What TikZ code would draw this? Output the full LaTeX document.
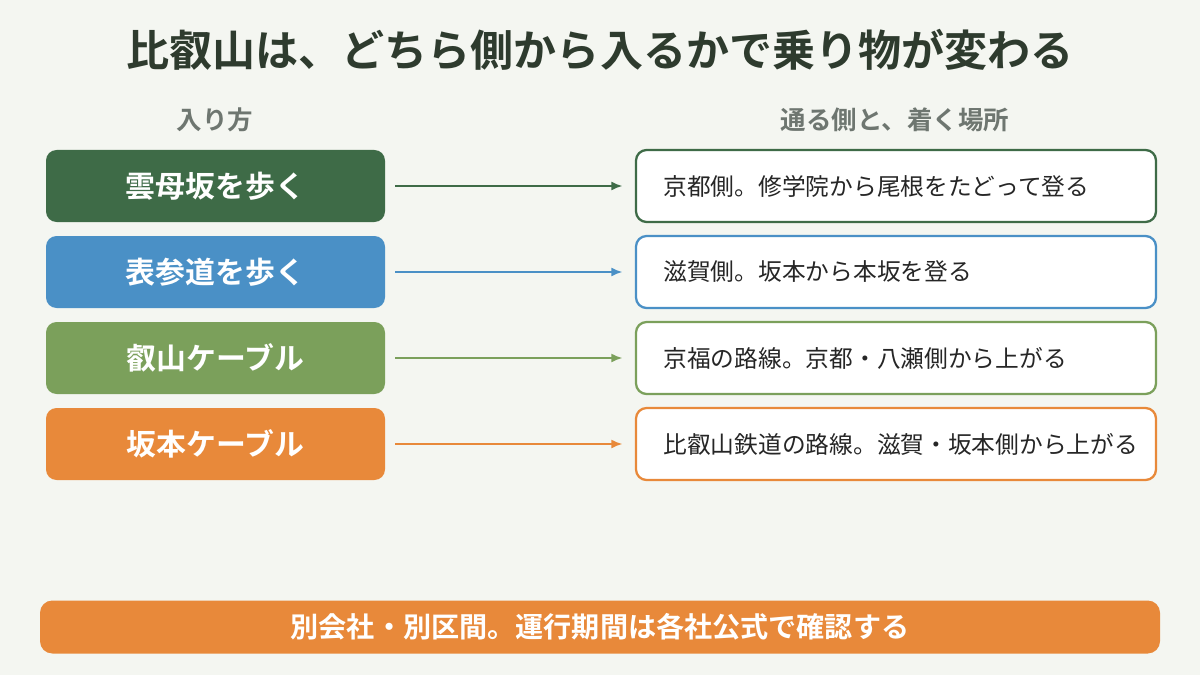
\documentclass[tikz,border=0pt]{standalone}
\usepackage{fontspec}
\setmainfont{Noto Sans CJK JP}[BoldFont={Noto Sans CJK JP Bold}]
\usetikzlibrary{arrows.meta, positioning}
\definecolor{Paper}{HTML}{F4F6F1}
\definecolor{Ink}{HTML}{2E3B2E}
\definecolor{Muted}{HTML}{6E7670}
\definecolor{Forest}{HTML}{3E6B47}
\definecolor{Sky}{HTML}{4A90C6}
\definecolor{Leaf}{HTML}{7BA05B}
\definecolor{Amber}{HTML}{E8893A}
\tikzset{
  route/.style={rectangle, rounded corners=6pt, fill=#1, text=white,
    minimum width=6.78cm, minimum height=1.44cm, font=\fontsize{17}{20}\selectfont\bfseries},
  place/.style={rectangle, rounded corners=6pt, draw=#1, line width=1.3pt, fill=white,
    minimum width=10.4cm, minimum height=1.44cm, text width=9.3cm, align=left,
    font=\fontsize{13.5}{17}\selectfont, text=black!85},
  link/.style={draw=#1, line width=1pt, -{Latex[length=2.2mm,width=1.8mm]}},
  head/.style={text=Muted, font=\fontsize{14.5}{17}\selectfont\bfseries}
}
\begin{document}
\begin{tikzpicture}
    \fill[Paper] (0,0) rectangle (24,13.5);
    \useasboundingbox (0,0) rectangle (24,13.5);
    % Title and headers
    \node[text=Ink, font=\fontsize{24.5}{29}\selectfont\bfseries] (title) at (12,12.5)
        {比叡山は、どちら側から入るかで乗り物が変わる};
    \node[head] (hl) at (4.3,11.1) {入り方};
    \node[head] (hr) at (17.9,11.1) {通る側と、着く場所};

    % Entrances
    \node[route=Forest] (r1) at (4.31,9.78) {雲母坂を歩く};
    \node[route=Sky]    (r2) at (4.31,8.06) {表参道を歩く};
    \node[route=Leaf]   (r3) at (4.31,6.34) {叡山ケーブル};
    \node[route=Amber]  (r4) at (4.31,4.62) {坂本ケーブル};

    % Destinations
    \node[place=Forest] (p1) at (17.92,9.78) {京都側。修学院から尾根をたどって登る};
    \node[place=Sky]    (p2) at (17.92,8.06) {滋賀側。坂本から本坂を登る};
    \node[place=Leaf]   (p3) at (17.92,6.34) {京福の路線。京都・八瀬側から上がる};
    \node[place=Amber]  (p4) at (17.92,4.62) {比叡山鉄道の路線。滋賀・坂本側から上がる};

    % Arrows
    \draw[link=Forest] ([xshift=0.2cm]r1.east) -- ([xshift=-0.25cm]p1.west);
    \draw[link=Sky]    ([xshift=0.2cm]r2.east) -- ([xshift=-0.25cm]p2.west);
    \draw[link=Leaf]   ([xshift=0.2cm]r3.east) -- ([xshift=-0.25cm]p3.west);
    \draw[link=Amber]  ([xshift=0.2cm]r4.east) -- ([xshift=-0.25cm]p4.west);

    % Note
    \node[rectangle, rounded corners=7pt, fill=Amber, text=white,
          minimum width=22.4cm, minimum height=1.06cm, font=\fontsize{16}{19}\selectfont\bfseries]
        (note) at (12,0.96) {別会社・別区間。運行期間は各社公式で確認する};
\end{tikzpicture}
\end{document}
